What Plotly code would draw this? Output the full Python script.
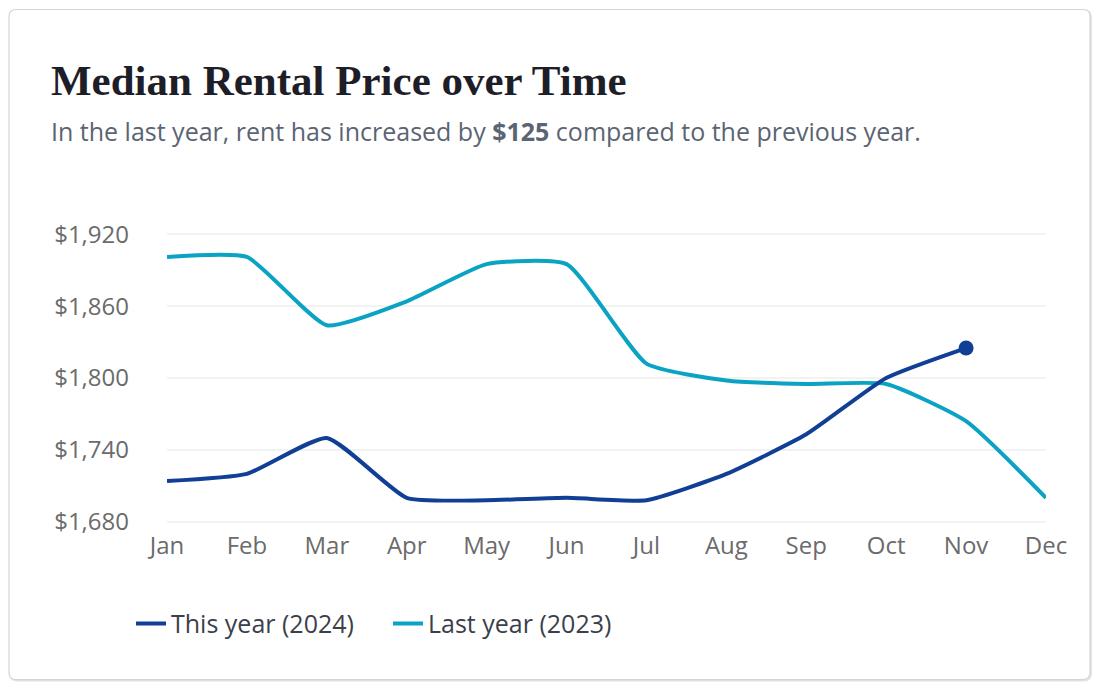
import plotly.graph_objects as go

# ---- data ----
months = ["Jan", "Feb", "Mar", "Apr", "May", "Jun", "Jul", "Aug", "Sep", "Oct", "Nov", "Dec"]
this_year = [1714, 1720, 1750, 1700, 1698, 1700, 1698, 1720, 1753, 1800, 1825]
last_year = [1901, 1901, 1844, 1864, 1895, 1895, 1812, 1798, 1795, 1795, 1764, 1700]
y_ticks = [1680, 1740, 1800, 1860, 1920]
y_tick_labels = ["$1,680", "$1,740", "$1,800", "$1,860", "$1,920"]

TITLE = "Median Rental Price over Time"
SUBTITLE = "In the last year, rent has increased by <b>$125</b> compared to the previous year."

DARK = "#103f95"
LIGHT = "#0ba3c3"

# ---- layout geometry (pixels, page body has an 8px offset) ----
OFF = 8
W, H = 1101 - 2 * OFF, 690 - 2 * OFF
PAD = 1  # value padding so edge gridlines are drawn
PXU = 1.2  # pixels per dollar
PL, PR = 167 - OFF, 1046 - OFF
PT, PB = 234 - OFF - PAD * PXU, 522 - OFF + PAD * PXU


def px_x(x):
    return (x - OFF - PL) / (PR - PL)


def px_y(y):
    return (PB - (y - OFF)) / (PB - PT)


fig = go.Figure()

fig.add_trace(go.Scatter(
    x=months[:len(last_year)], y=last_year, mode="lines", name="Last year (2023)",
    line=dict(color=LIGHT, width=4, shape="spline", smoothing=0.5),
    legendrank=2, cliponaxis=False, hoverinfo="skip"))

fig.add_trace(go.Scatter(
    x=months[:len(this_year)], y=this_year, mode="lines", name="This year (2024)",
    line=dict(color=DARK, width=4, shape="spline", smoothing=0.5),
    legendrank=1, cliponaxis=False, hoverinfo="skip"))

fig.add_trace(go.Scatter(
    x=[months[len(this_year) - 1]], y=[this_year[-1]], mode="markers",
    marker=dict(color=DARK, size=15), showlegend=False, cliponaxis=False,
    hoverinfo="skip"))


def card_path(x0, y0, x1, y1, rad):
    pts = [
        f"M {px_x(x0 + rad)},{px_y(y0)}",
        f"L {px_x(x1 - rad)},{px_y(y0)}",
        f"Q {px_x(x1)},{px_y(y0)} {px_x(x1)},{px_y(y0 + rad)}",
        f"L {px_x(x1)},{px_y(y1 - rad)}",
        f"Q {px_x(x1)},{px_y(y1)} {px_x(x1 - rad)},{px_y(y1)}",
        f"L {px_x(x0 + rad)},{px_y(y1)}",
        f"Q {px_x(x0)},{px_y(y1)} {px_x(x0)},{px_y(y1 - rad)}",
        f"L {px_x(x0)},{px_y(y0 + rad)}",
        f"Q {px_x(x0)},{px_y(y0)} {px_x(x0 + rad)},{px_y(y0)} Z",
    ]
    return " ".join(pts)


cx0, cy0, cx1, cy1, r = 9, 9, 1090, 680, 7
fig.add_shape(type="path", xref="paper", yref="paper",
              path=card_path(cx0 + 1, cy0 + 1, cx1 + 1, cy1 + 1, r),
              line=dict(color="#e4e4e4", width=2), layer="below")
fig.add_shape(type="path", xref="paper", yref="paper",
              path=card_path(cx0, cy0, cx1, cy1, r),
              line=dict(color="#d4d4d4", width=1.2), fillcolor="white", layer="below")

fig.add_annotation(text=TITLE, xref="paper", yref="paper",
                   x=px_x(49), y=px_y(80), xanchor="left", yanchor="middle",
                   showarrow=False,
                   font=dict(family="Liberation Serif", size=43, color="#1e1e28", weight="bold"))
fig.add_annotation(text=SUBTITLE, xref="paper", yref="paper",
                   x=px_x(49), y=px_y(131), xanchor="left", yanchor="middle",
                   showarrow=False,
                   font=dict(family="Open Sans", size=25, color="#5b6472"))

fig.update_layout(
    width=W, height=H,
    margin=dict(l=PL, r=W - PR, t=PT, b=H - PB),
    paper_bgcolor="white", plot_bgcolor="white",
    font=dict(family="Open Sans", color="#6b6b6b"),
    showlegend=True,
    legend=dict(orientation="h", x=px_x(131), y=px_y(624), xanchor="left", yanchor="middle",
                font=dict(size=25, color="#3a3f4a"), itemwidth=30, entrywidth=212,
                bgcolor="rgba(0,0,0,0)"),
    xaxis=dict(type="category", categoryorder="array", categoryarray=months,
               range=[0, len(months) - 1], showgrid=False, zeroline=False,
               showline=False, ticks="", tickfont=dict(size=24, color="#6b6b6b"),
               ticklabelstandoff=6, fixedrange=True),
    yaxis=dict(range=[y_ticks[0] - PAD, y_ticks[-1] + PAD], tickvals=y_ticks,
               ticktext=y_tick_labels,
               showgrid=True, gridcolor="#f2f2f2", gridwidth=2, zeroline=False,
               showline=False, ticks="", tickfont=dict(size=24, color="#6b6b6b"),
               ticklabelstandoff=37, fixedrange=True),
)

fig.write_html("out.html")
